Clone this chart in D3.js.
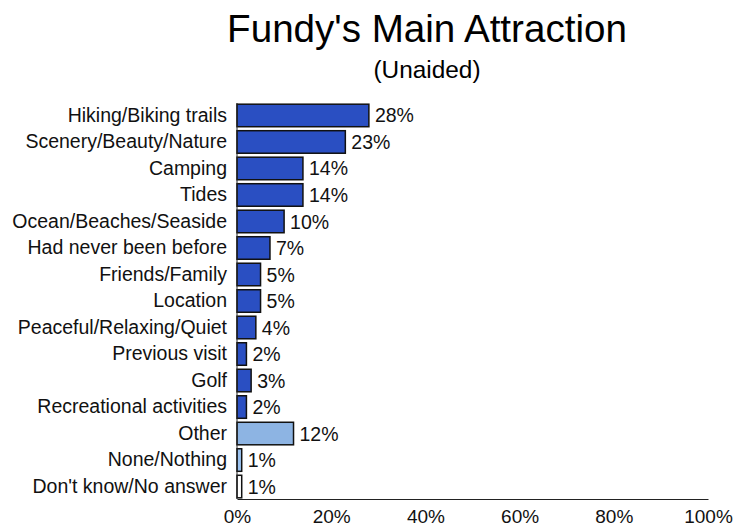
<!DOCTYPE html>
<html>
<head>
<meta charset="utf-8">
<script src="https://cdn.jsdelivr.net/npm/d3@7"></script>
<style>
  html, body { margin: 0; padding: 0; background: #fff; }
  svg { display: block; font-family: "Liberation Sans", Arial, Helvetica, sans-serif; }
</style>
</head>
<body>
<svg id="chart" width="733" height="529"></svg>
<script>
// Reasons given for visiting Fundy (unaided), percent of respondents
const categories = [
  "Hiking/Biking trails", "Scenery/Beauty/Nature", "Camping", "Tides",
  "Ocean/Beaches/Seaside", "Had never been before", "Friends/Family", "Location",
  "Peaceful/Relaxing/Quiet", "Previous visit", "Golf", "Recreational activities",
  "Other", "None/Nothing", "Don't know/No answer"
];
const values = [28, 23, 14, 14, 10, 7, 5, 5, 4, 2, 3, 2, 12, 1, 1];
const groups = ["main", "main", "main", "main", "main", "main", "main", "main",
  "main", "main", "main", "main", "other", "none", "dk"];
const xTicks = [0, 20, 40, 60, 80, 100];

const fills = { main: "#2a4fc2", other: "#8db4e3", none: "#9cc3f0", dk: "#ffffff" };

const svg = d3.select("#chart");
const plotLeft = 237, plotRight = 708, plotTop = 103, axisY = 499;
const fs = 19.5;

const x = d3.scaleLinear().domain([0, 100]).range([plotLeft, plotRight]);
const y = d3.scaleBand().domain(categories)
  .range([plotTop, axisY]).paddingInner(0.15).paddingOuter(0.045);

// Title
svg.append("text").attr("x", 427).attr("y", 42).attr("text-anchor", "middle")
  .attr("font-size", 38.6).attr("fill", "#000").text("Fundy's Main Attraction");
svg.append("text").attr("x", 427).attr("y", 78).attr("text-anchor", "middle")
  .attr("font-size", 24.4).attr("fill", "#000").text("(Unaided)");

// Bars
const data = categories.map((c, i) => ({ c, v: values[i], g: groups[i] }));
svg.append("g").selectAll("rect").data(data).join("rect")
  .attr("x", x(0))
  .attr("y", d => y(d.c))
  .attr("width", d => x(d.v) - x(0))
  .attr("height", y.bandwidth())
  .attr("fill", d => fills[d.g])
  .attr("stroke", "#111")
  .attr("stroke-width", 1.5);

// Value labels
svg.append("g").selectAll("text").data(data).join("text")
  .attr("x", d => x(d.v) + 6)
  .attr("y", d => y(d.c) + y.bandwidth() / 2)
  .attr("dy", "0.36em")
  .attr("font-size", fs)
  .attr("fill", "#111")
  .text(d => d.v + "%");

// Category axis
const yAxis = svg.append("g").attr("transform", `translate(${plotLeft},0)`)
  .call(d3.axisLeft(y).tickSize(0).tickPadding(10));
yAxis.select(".domain").remove();
yAxis.selectAll("text").attr("font-size", fs).attr("fill", "#111")
  .attr("font-family", "Liberation Sans, Arial, sans-serif");

svg.append("line")
  .attr("x1", plotLeft).attr("x2", plotLeft)
  .attr("y1", plotTop).attr("y2", axisY)
  .attr("stroke", "#222").attr("stroke-width", 1);

// Value axis
const xAxis = svg.append("g").attr("transform", `translate(0,${axisY})`)
  .call(d3.axisBottom(x).tickValues(xTicks).tickFormat(d => d + "%").tickSize(0).tickPadding(11));
xAxis.select(".domain").attr("stroke", "#222");
xAxis.selectAll("text").attr("font-size", 19).attr("fill", "#111")
  .attr("font-family", "Liberation Sans, Arial, sans-serif");
</script>
</body>
</html>
